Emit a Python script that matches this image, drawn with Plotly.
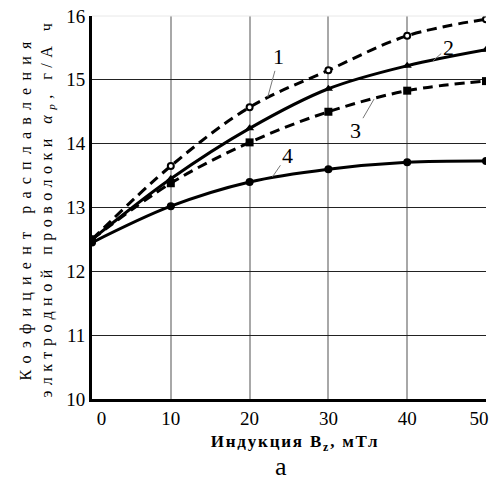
import plotly.graph_objects as go

induction = [0, 10, 20, 30, 40, 50]
curve1 = [12.5, 13.65, 14.57, 15.15, 15.69, 15.95]
curve2 = [12.5, 13.45, 14.24, 14.86, 15.22, 15.47]
curve3 = [12.5, 13.38, 14.02, 14.50, 14.83, 14.98]
curve4 = [12.45, 13.02, 13.40, 13.60, 13.71, 13.73]

x_ticks = [0, 10, 20, 30, 40, 50]
x_ticktext = ["\u00a0\u00a0\u00a0\u00a00", "10", "20", "30", "40", "50\u00a0\u00a0\u00a0"]
y_ticks = [10, 11, 12, 13, 14, 15, 16]

curve_labels = ["1", "2", "3", "4"]
label_pos = [(23.7, 15.36), (45.2, 15.51), (33.5, 14.21), (24.8, 13.82)]
label_tip = [(22.3, 14.73), (43.3, 15.30), (35.8, 14.70), (22.9, 13.48)]

SERIF = "Liberation Serif"

fig = go.Figure()
dash = "10px,6px"
fig.add_trace(go.Scatter(x=induction, y=curve1, mode="lines+markers", line=dict(color="black", width=3, dash=dash, shape="spline"),
                         marker=dict(symbol="circle", size=6, color="white", line=dict(color="black", width=2))))
fig.add_trace(go.Scatter(x=induction, y=curve2, mode="lines+markers", line=dict(color="black", width=3, shape="spline"),
                         marker=dict(symbol="triangle-up", size=8, color="black")))
fig.add_trace(go.Scatter(x=induction, y=curve3, mode="lines+markers", line=dict(color="black", width=3, dash=dash, shape="spline"),
                         marker=dict(symbol="square", size=8, color="black")))
fig.add_trace(go.Scatter(x=induction, y=curve4, mode="lines+markers", line=dict(color="black", width=3, shape="spline"),
                         marker=dict(symbol="circle", size=8, color="black")))

annotations = []
for t, (ax, ay), (tx, ty) in zip(curve_labels, label_pos, label_tip):
    annotations.append(dict(x=tx, y=ty, ax=ax, ay=ay, xref="x", yref="y", axref="x", ayref="y",
                            text=t, showarrow=True, arrowhead=0, arrowwidth=1, arrowcolor="#777",
                            font=dict(family=SERIF, size=22, color="black")))
annotations.append(dict(x=0.48, y=-0.175, xref="paper", yref="paper", yanchor="middle", text="а", showarrow=False,
                        font=dict(family="Liberation Sans Narrow", size=26, color="black")))

ytitle = "Коэфициент расплавления<br>элктродной проволоки <i>α<sub>p</sub></i>, г/А ч"
xtitle = "<b>Индукция B<sub>z</sub>, мТл</b>"

fig.update_layout(
    width=490, height=484,
    margin=dict(l=92, r=4, t=16, b=85),
    paper_bgcolor="white", plot_bgcolor="white",
    showlegend=False,
    annotations=annotations,
    font=dict(family=SERIF, color="black"),
    xaxis=dict(range=[0, 50], tickvals=x_ticks, ticktext=x_ticktext, showgrid=True, gridcolor="#a8a8a8", gridwidth=2,
               showline=True, linecolor="black", linewidth=3, ticks="", zeroline=False,
               ticklabeloverflow="allow", automargin=False,
               tickfont=dict(family=SERIF, size=19, color="black"),
               title=dict(text=xtitle, font=dict(family=SERIF, size=17, color="black"), standoff=8)),
    yaxis=dict(range=[10, 16], tickvals=y_ticks, showgrid=True, gridcolor="#222", gridwidth=1,
               showline=True, linecolor="black", linewidth=3, ticks="", zeroline=False, automargin=False,
               tickfont=dict(family=SERIF, size=19, color="black"),
               title=dict(text=ytitle, font=dict(family=SERIF, size=16, color="black"), standoff=10)),
)
fig.add_shape(type="line", xref="paper", yref="paper", x0=0, x1=1, y0=1, y1=1, line=dict(color="#e8e8e8", width=1))

post = """
var gd = document.getElementsByClassName('plotly-graph-div')[0];
function spacing(){
  document.querySelectorAll('text.ytitle').forEach(function(e){
    var lines = e.querySelectorAll('tspan.line');
    if (lines.length >= 2) {
      lines[0].style.letterSpacing = '7.2px';
      lines[1].style.letterSpacing = '5.5px';
    } else { e.style.letterSpacing = '6px'; }
  });
  document.querySelectorAll('text.xtitle').forEach(function(e){
    e.style.letterSpacing = '1.8px';
    e.setAttribute('transform', 'translate(6,0)');
  });
}
spacing();
if (gd && gd.on) { gd.on('plotly_afterplot', spacing); }
"""
fig.write_html("out.html", post_script=post)
